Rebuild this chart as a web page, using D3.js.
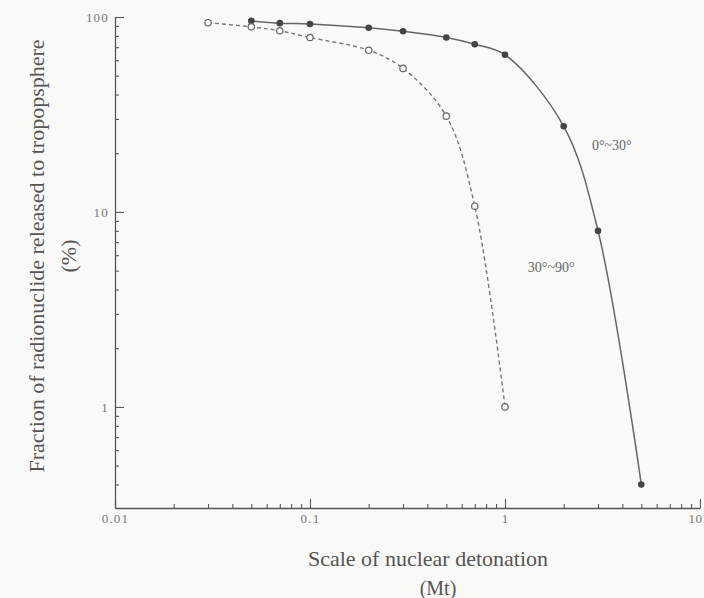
<!DOCTYPE html>
<html><head><meta charset="utf-8">
<script src="https://cdn.jsdelivr.net/npm/d3@7"></script>
<style>
html,body{margin:0;padding:0;background:#f9f9f8;}
svg{display:block;}
</style></head>
<body>
<script>
// Data
const scaleMt = [0.05, 0.07, 0.1, 0.2, 0.3, 0.5, 0.7, 1, 2, 3, 5];
const lowLat = [95.5, 93, 92, 88, 84.5, 78.5, 72.5, 64, 27.5, 8.0, 0.40];
const scaleMtHigh = [0.03, 0.05, 0.07, 0.1, 0.2, 0.3, 0.5, 0.7, 1];
const highLat = [93.5, 89, 85, 78.5, 67.5, 54.5, 31, 10.7, 1.0];
const xMajor = [0.01, 0.1, 1, 10];
const xMajorLabels = ["0.01", "0.1", "1", "10"];
const xMinor = [0.02,0.03,0.04,0.05,0.06,0.07,0.08,0.09,0.2,0.3,0.4,0.5,0.6,0.7,0.8,0.9,2,3,4,5,6,7,8,9];
const yMajor = [1, 10, 100];
const yMajorLabels = ["1", "10", "100"];
const yMinor = [0.4,0.5,0.6,0.7,0.8,0.9,2,3,4,5,6,7,8,9,20,30,40,50,60,70,80,90];
const seriesLabels = ["0°~30°", "30°~90°"];

const W = 704, H = 598;
const svg = d3.select("body").append("svg").attr("width", W).attr("height", H);
const ink = "#555";
const x = d3.scaleLog().domain([0.01, 10]).range([115, 700]);
const y = d3.scaleLog().domain([0.303, 100]).range([508, 17]);

const fontTick = "'Liberation Serif', 'DejaVu Serif', serif";

// axes
const gx = svg.append("g").attr("transform", `translate(0,${y.range()[0]})`);
gx.call(d3.axisBottom(x).tickValues(xMinor).tickSizeInner(-4).tickSizeOuter(0).tickFormat(""));
gx.call(g => g.selectAll(".domain").remove());
const gx2 = svg.append("g").attr("transform", `translate(0,${y.range()[0]})`);
gx2.call(d3.axisBottom(x).tickValues(xMajor).tickSizeInner(-9).tickSizeOuter(0).tickPadding(6)
  .tickFormat((d,i) => xMajorLabels[i]));

const gy = svg.append("g").attr("transform", `translate(${x.range()[0]},0)`);
gy.call(d3.axisLeft(y).tickValues(yMinor).tickSizeInner(-4).tickSizeOuter(0).tickFormat(""));
gy.call(g => g.selectAll(".domain").remove());
const gy2 = svg.append("g").attr("transform", `translate(${x.range()[0]},0)`);
gy2.call(d3.axisLeft(y).tickValues(yMajor).tickSizeInner(-9).tickSizeOuter(0).tickPadding(6)
  .tickFormat((d,i) => yMajorLabels[i]));

svg.selectAll(".domain").attr("stroke", ink).attr("stroke-width", 1.3);
svg.selectAll(".tick line").attr("stroke", ink).attr("stroke-width", 1.1);
svg.selectAll(".tick text").attr("fill", "#777").attr("font-family", fontTick).attr("font-size", 13)
  .attr("letter-spacing", 1.2);
gx2.selectAll(".tick text").filter(d => d === 10).attr("text-anchor", "end").attr("dx", "2").attr("letter-spacing", 0.5);

// Titles
const tFont = 22;
svg.append("text").attr("transform", "translate(44,256) rotate(-90)")
  .attr("text-anchor", "middle").attr("font-family", fontTick).attr("font-size", tFont).attr("fill", ink)
  .text("Fraction of radionuclide released to tropopsphere");
svg.append("text").attr("transform", "translate(76,256) rotate(-90)")
  .attr("text-anchor", "middle").attr("font-family", fontTick).attr("font-size", tFont).attr("fill", ink)
  .text("(%)");
svg.append("text").attr("x", 428).attr("y", 566).attr("text-anchor", "middle")
  .attr("font-family", fontTick).attr("font-size", tFont).attr("fill", ink).text("Scale of nuclear detonation");
svg.append("text").attr("x", 438).attr("y", 595).attr("text-anchor", "middle")
  .attr("font-family", fontTick).attr("font-size", tFont - 2).attr("fill", ink).text("(Mt)");

// lines
const line = d3.line().x(d => x(d[0])).y(d => y(d[1])).curve(d3.curveCatmullRom.alpha(0.5));
const low = scaleMt.map((v,i) => [v, lowLat[i]]);
const high = scaleMtHigh.map((v,i) => [v, highLat[i]]);
svg.append("path").datum(low).attr("d", line).attr("fill", "none").attr("stroke", "#666").attr("stroke-width", 1.5);
svg.append("path").datum(high).attr("d", line).attr("fill", "none").attr("stroke", "#777")
  .attr("stroke-width", 1.4).attr("stroke-dasharray", "4,3");
svg.selectAll("circle.low").data(low).enter().append("circle").attr("class","low")
  .attr("cx", d => x(d[0])).attr("cy", d => y(d[1])).attr("r", 3.3).attr("fill", "#444");
svg.selectAll("circle.high").data(high).enter().append("circle").attr("class","high")
  .attr("cx", d => x(d[0])).attr("cy", d => y(d[1])).attr("r", 3.2).attr("fill", "#f9f9f8")
  .attr("stroke", "#666").attr("stroke-width", 1.2);

// series labels
svg.append("text").attr("x", x(2.79)).attr("y", y(20.7)).attr("font-family", fontTick).attr("font-size", 14)
  .attr("fill", "#666").text(seriesLabels[0]);
svg.append("text").attr("x", x(1.31)).attr("y", y(4.9)).attr("font-family", fontTick).attr("font-size", 14)
  .attr("fill", "#666").text(seriesLabels[1]);
</script>
</body></html>
